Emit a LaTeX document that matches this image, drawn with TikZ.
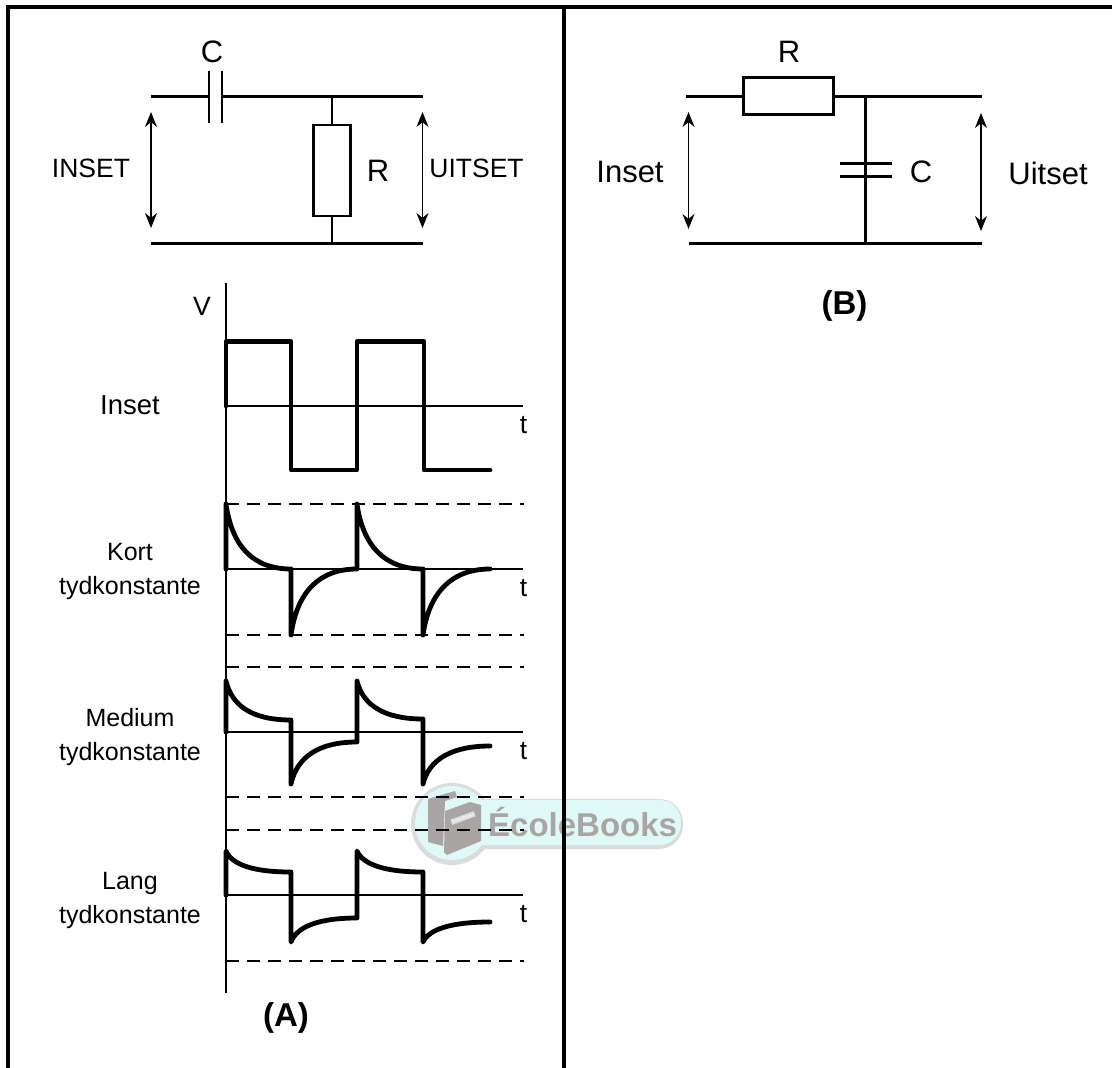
\documentclass[tikz,border=0pt]{standalone}
\usepackage{fontspec}
\setmainfont{Liberation Sans}
\usetikzlibrary{arrows.meta,positioning}
\definecolor{wmpill}{HTML}{DFF9F7}
\definecolor{wmgray}{HTML}{A9A5A5}
\definecolor{wmedge}{HTML}{DADDDD}
\newcommand{\tailto}[3]{.. controls +(6,{0.65*(#3-#2)}) and +(-38,0) .. (#1,#3)}
\begin{document}
\begin{tikzpicture}[x=1pt,y=-1pt,>=Stealth]
  \tikzset{
    frameline/.style={line width=4pt},
    wire/.style={line width=2.3pt},
    resbox/.style={draw, line width=2.8pt, inner sep=0pt},
    volt/.style={<->, line width=1.3pt, >={Stealth[length=15pt,width=12pt]}},
    lbl/.style={font=\fontsize{26.5}{33}\selectfont, inner sep=0pt, align=center},
    rowl/.style={font=\fontsize{25}{34}\selectfont, inner sep=0pt, align=center},
    bigl/.style={font=\fontsize{31}{36}\selectfont, inner sep=0pt},
    capt/.style={font=\fontsize{33}{38}\selectfont\bfseries, inner sep=0pt},
    axisl/.style={line width=1.5pt},
    refl/.style={line width=1.5pt, dash pattern=on 13pt off 8pt},
    wave/.style={line width=4.8pt, line cap=round, line join=round}
  }
  \useasboundingbox (0,0) rectangle (1112,1068);

  % watermark
  \fill[wmedge, rounded corners=24pt] (452,799) rectangle (683,849);
  \fill[wmedge] (452,824) circle (41);
  \fill[wmpill, rounded corners=22pt] (452,800) rectangle (681,845);
  \fill[wmpill] (452,823) circle (37);
  \fill[wmgray] (428,799) -- (455,791) -- (457,797) -- (445,801) -- (443,846) -- (428,842) -- cycle;
  \fill[wmgray] (445,811) -- (470,802) -- (481,805) -- (481,841) -- (447,855) -- (444,852) -- cycle;
  \node[font=\fontsize{4}{4}\selectfont\bfseries, text=white, fill=gray!30, inner sep=1pt, rotate=20] (wmbook) at (463,818) {ÉcoleBooks};
  \node[font=\fontsize{33}{38}\selectfont\bfseries, text=wmgray, inner sep=0pt, anchor=west] (wmtext) at (488,822) {ÉcoleBooks};

  % frame
  \draw[frameline] (7.5,1068) -- (7.5,6.5) -- (1112,6.5);
  \draw[frameline] (564,6.5) -- (564,1068);

  % circuit A
  \coordinate (Atl) at (151,96.5);
  \coordinate (Atr) at (423,96.5);
  \coordinate (Abl) at (151,243.5);
  \coordinate (Abr) at (423,243.5);
  \coordinate (Cl) at (209,96.5);
  \coordinate (Cr) at (222,96.5);
  \node[resbox, minimum width=37pt, minimum height=91pt] (Ra) at (332,170.5) {};
  \draw[wire] (Atl) -- (Cl) (Cr) -- (Atr);
  \draw[wire] (Abl) -- (Abr);
  \foreach \c in {Cl,Cr}{
    \draw[wire] ([yshift=-26pt]\c) -- ([yshift=26pt]\c);
  }
  \draw[wire] (Ra.north) -- (Ra.north |- Atr);
  \draw[wire] (Ra.south) -- ([yshift=2pt]Ra.south |- Abr);
  \coordinate (Ai) at (151,112);
  \coordinate (Aj) at (151,228);
  \coordinate (Au) at (422.5,112);
  \coordinate (Av) at (422.5,228);
  \draw[volt] (Ai) -- (Aj);
  \draw[volt] (Au) -- (Av);
  \node[bigl] (Clab) at (212,52) {C};
  \node[lbl] (insA) at (91,168) {INSET};
  \node[bigl] (Rlab) at (378,171) {R};
  \node[lbl] (uitA) at (476.5,168) {UITSET};

  % circuit B
  \coordinate (Btl) at (686,96.5);
  \coordinate (Btr) at (982,96.5);
  \coordinate (Bbl) at (688.5,243.5);
  \coordinate (Bbr) at (982,243.5);
  \node[resbox, minimum width=90pt, minimum height=37pt] (Rb) at (788.5,96) {};
  \coordinate (Cb) at (865.5,170);
  \draw[wire] (Btl) -- (Rb.west |- Btl) (Rb.east |- Btr) -- (Btr);
  \draw[wire] (Bbl) -- (Bbr);
  \draw[wire] (Cb |- Btr) -- ([yshift=-7pt]Cb);
  \draw[wire] ([yshift=6.5pt]Cb) -- (Cb |- Bbr);
  \draw[wire, line width=2.6pt] ([xshift=-26pt,yshift=-6.5pt]Cb) -- ([xshift=26pt,yshift=-6.5pt]Cb);
  \draw[wire, line width=2.6pt] ([xshift=-26pt,yshift=6.5pt]Cb) -- ([xshift=26pt,yshift=6.5pt]Cb);
  \coordinate (Bi) at (688.5,112);
  \coordinate (Bj) at (688.5,229);
  \coordinate (Bu) at (981,113);
  \coordinate (Bv) at (981,231);
  \draw[volt] (Bi) -- (Bj);
  \draw[volt] (Bu) -- (Bv);
  \node[bigl] (RlabB) at (789,52) {R};
  \node[bigl] (insB) at (630,172) {Inset};
  \node[bigl] (ClabB) at (921,172) {C};
  \node[bigl] (uitB) at (1048,173) {Uitset};
  \node[capt] (capB) at (844.5,306) {(B)};

  % graphs
  \draw[axisl] (226,283) -- (226,993);
  \foreach \b in {406,569,732,895}{
    \draw[axisl] (226,\b) -- (523,\b);
    \node[lbl] at (523.5,\b+19) {t};
  }
  \foreach \d in {504,635,667,797,830,961}{
    \draw[refl] (226,\d) -- (524,\d);
  }
  \node[lbl] (Vlab) at (202,306) {V};
  \draw[wave] (226,406) -- (226,341.5) -- (291,341.5) -- (291,470) -- (357,470) -- (357,341.5) -- (424,341.5) -- (424,470) -- (490,470);
  \foreach \b/\p/\e/\l/\f/\g/\h in {569/504/569/635/569/569/569, 732/681/720/784/742/719/746, 895/851/872/942/918/872/922}{
    \draw[wave] (226,\b) -- (226,\p) \tailto{291}{\p}{\e} -- (291,\l) \tailto{357}{\l}{\f}
      -- (357,\p) \tailto{423}{\p}{\g} -- (423,\l) \tailto{490}{\l}{\h};
  }
  \node[lbl, font=\fontsize{27.5}{33}\selectfont] (insW) at (130,405) {Inset};
  \node[rowl] (kort) at (130,571.5) {Kort\\tydkonstante};
  \node[rowl] (medi) at (130,737) {Medium\\tydkonstante};
  \node[rowl] (lang) at (130,900) {Lang\\tydkonstante};
  \node[capt] (capA) at (286,1018) {(A)};
\end{tikzpicture}
\end{document}
